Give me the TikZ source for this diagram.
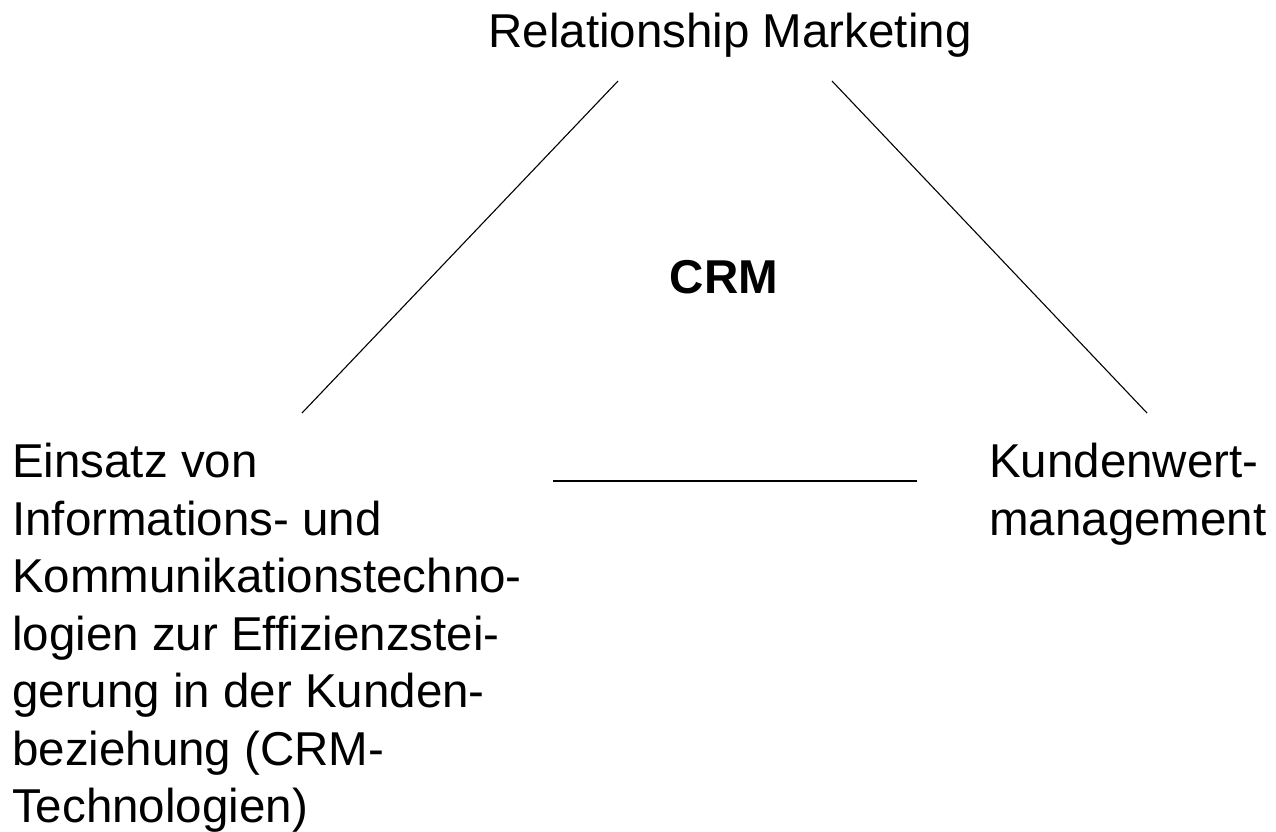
\documentclass[tikz,border=0pt]{standalone}
\usepackage{fontspec}
\setmainfont{Liberation Sans}
\begin{document}
\begin{tikzpicture}
    [
        x = 1pt, y = -1pt,
        txt/.style = {inner sep = 0, font = \fontsize{47.5}{57.5}\selectfont},
        side/.style = {txt, align = left, anchor = north west},
        edge/.style = {line width = 1.1pt},
    ]

    \useasboundingbox (0,0) rectangle (1276,831);

    \node[txt, anchor = base] (rm) at (730,47) {Relationship Marketing};
    \node[txt, anchor = base, font = \fontsize{47.5}{57.5}\selectfont\bfseries] (crm) at (724,293) {CRM};
    \node[side] (ikt) at (12,443) {Einsatz von\\
            Informations- und\\
            Kommunikationstechno-\\
            logien zur Effizienzstei-\\
            gerung in der Kunden-\\
            beziehung (CRM-\\
            Technologien)};
    \node[side] (kwm) at (989,443) {Kundenwert-\\management};

    \coordinate (rm-l) at (618,81);
    \coordinate (rm-r) at (832,81);
    \coordinate (ikt-t) at (302,413);
    \coordinate (kwm-t) at (1147,413);
    \coordinate (ikt-r) at (553,481);
    \coordinate (kwm-l) at (917,481);

    \draw[edge] (rm-l) -- (ikt-t);
    \draw[edge] (rm-r) -- (kwm-t);
    \draw[edge] (ikt-r) -- (kwm-l);

\end{tikzpicture}
\end{document}
